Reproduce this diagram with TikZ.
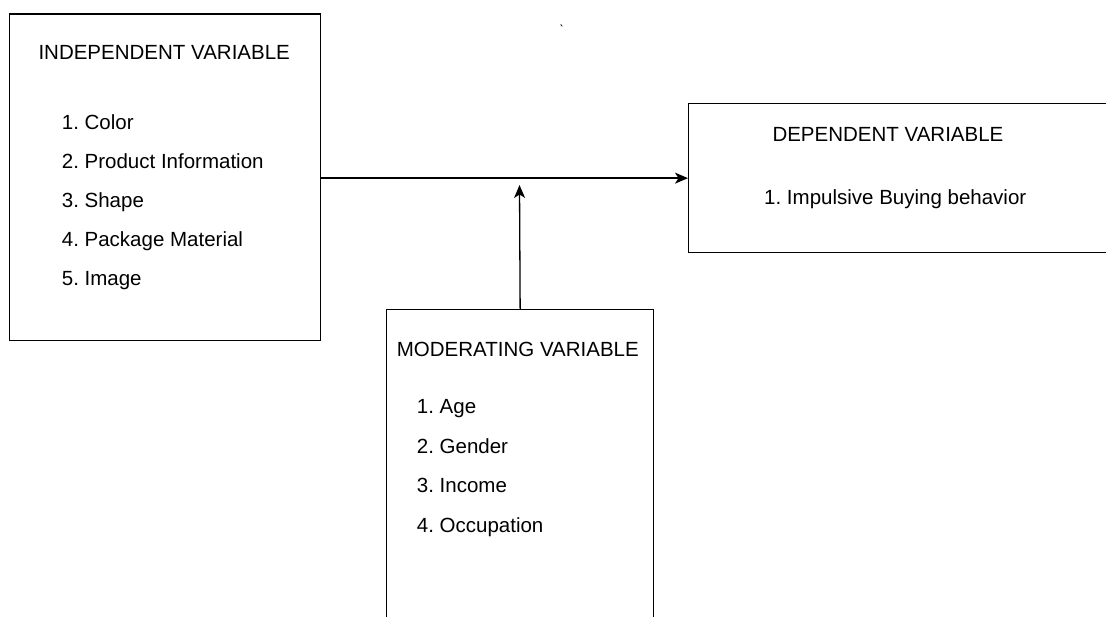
\documentclass[tikz,border=0pt]{standalone}
\usepackage{fontspec}
\setmainfont{Liberation Sans}
\usetikzlibrary{arrows.meta}
\frenchspacing
\tikzset{
  box/.style={draw=black, line width=1.3pt, rectangle, inner sep=0pt, anchor=north west},
  txt/.style={anchor=base west, inner sep=0pt, font=\fontsize{20.5}{24}\selectfont},
  arr/.style={line width=1.3pt, -{Stealth[length=13pt,width=11pt,inset=3.5pt]}}
}
\begin{document}
\begin{tikzpicture}[x=1pt,y=-1pt]
\useasboundingbox (0,0) rectangle (1106,617);
% boxes
\node[box, minimum width=311.5pt, minimum height=326.7pt] (iv) at (8.5,13.3) {};
\node[box, minimum width=430pt, minimum height=149pt] (dv) at (688,103) {};
\node[box, minimum width=267pt, minimum height=330pt] (mv) at (386,309) {};
% texts
\node[txt] (ivt) at (38.3,60) {INDEPENDENT VARIABLE};
\node[txt] (iv1) at (61.7,130) {1. Color};
\node[txt] (iv2) at (61.7,169) {2. Product Information};
\node[txt] (iv3) at (61.7,208) {3. Shape};
\node[txt] (iv4) at (61.7,247) {4. Package Material};
\node[txt] (iv5) at (61.7,286) {5. Image};
\node[txt] (dvt) at (772.3,141.7) {DEPENDENT VARIABLE};
\node[txt] (dv1) at (764,205) {1. Impulsive Buying behavior};
\node[txt] (mvt) at (396.7,356.7) {MODERATING VARIABLE};
\node[txt] (mv1) at (416.7,414) {1. Age};
\node[txt] (mv2) at (416.7,453.3) {2. Gender};
\node[txt] (mv3) at (416.7,492.7) {3. Income};
\node[txt] (mv4) at (416.7,532.3) {4. Occupation};
\node[anchor=base, inner sep=0pt, font=\fontsize{14}{16}\selectfont] (tick) at (562,38) {\`{}};
% connectors
\coordinate (mid) at (519.5,185);
\draw[arr] (iv.east |- dv.west) -- (dv.west);
\draw[arr] (mv.north) -- (mid);
\end{tikzpicture}
\end{document}
